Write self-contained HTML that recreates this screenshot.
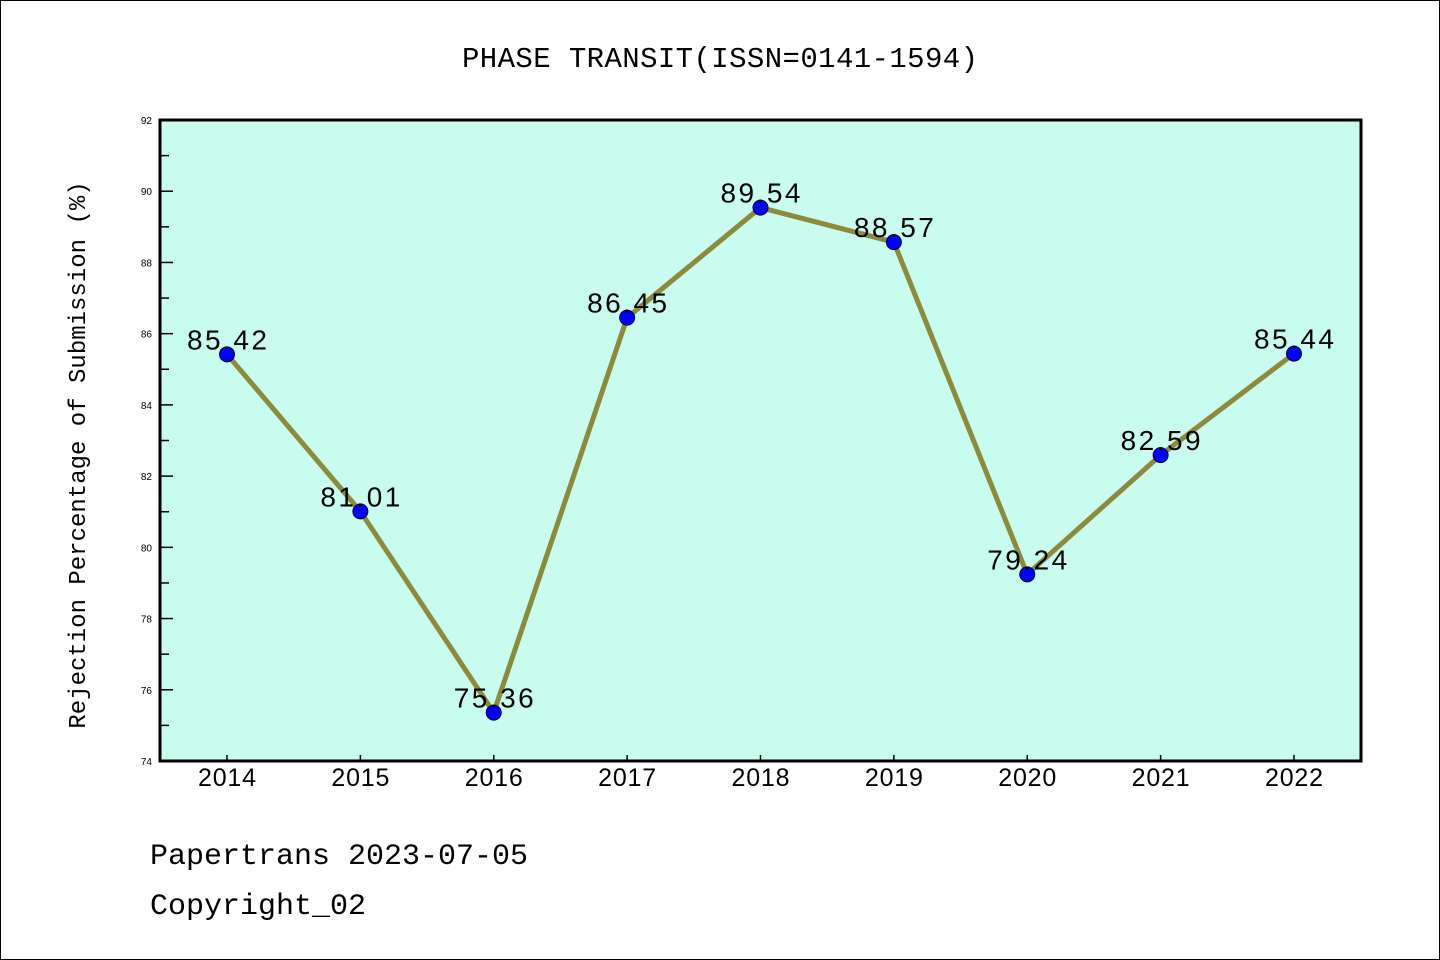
<!DOCTYPE html>
<html><head><meta charset="utf-8"><style>
html,body{margin:0;padding:0;background:#fff}
svg{display:block}
</style></head><body>
<svg width="1440" height="960" xmlns="http://www.w3.org/2000/svg" font-family="Liberation Sans, sans-serif">
<rect x="0.5" y="0.5" width="1439" height="959" fill="#fff" stroke="#000" stroke-width="1"/>
<text x="462" y="67" textLength="516" font-family="Liberation Mono, monospace" font-size="29">PHASE TRANSIT(ISSN=0141-1594)</text>
<rect x="160" y="120" width="1201" height="641" fill="#c8fcee"/>
<g id="ticks"></g>
<g id="series"></g>
<rect x="160" y="120" width="1201" height="641" fill="none" stroke="#000" stroke-width="3"/>
<text transform="translate(85,455) rotate(-90)" text-anchor="middle" font-family="Liberation Mono, monospace" font-size="24">Rejection Percentage of Submission (%)</text>
<text x="150" y="864" font-family="Liberation Mono, monospace" font-size="30">Papertrans 2023-07-05</text>
<text x="150" y="914" font-family="Liberation Mono, monospace" font-size="30">Copyright_02</text>
</svg>
<script>
const years = ['2014','2015','2016','2017','2018','2019','2020','2021','2022'];
const rates = [85.42,81.01,75.36,86.45,89.54,88.57,79.24,82.59,85.44];
const yTicks = [74,76,78,80,82,84,86,88,90,92];
const NS='http://www.w3.org/2000/svg';
const X0=227, XS=133.375, Y0=761, YS=641/18, YMIN=74;
const xs=i=>X0+i*XS, ys=v=>Y0-(v-YMIN)*YS;
function mk(tag,attrs,parent,text){const e=document.createElementNS(NS,tag);for(const k in attrs)e.setAttribute(k,attrs[k]);if(text!==undefined)e.textContent=text;parent.appendChild(e);return e;}
const tg=document.getElementById('ticks'), sg=document.getElementById('series');
for(let v=YMIN;v<=92;v++){
  const major=yTicks.includes(v);
  const t=mk('line',{x1:160,x2:160+(major?13:9),y1:ys(v),y2:ys(v),stroke:'#000','stroke-width':1.5},tg);
  
  
}
yTicks.forEach(v=>{
  const t=mk('text',{x:152,y:ys(v)+4,'text-anchor':'end','font-size':10},tg,String(v));
  
  
});
years.forEach((y,i)=>{
  const t=mk('line',{x1:xs(i),x2:xs(i),y1:761,y2:755,stroke:'#000','stroke-width':1.5},tg);
  
  
  const l=mk('text',{x:xs(i)-29,y:786,textLength:58,'font-size':25},tg,y);
  
  
});
const pl=mk('polyline',{points:rates.map((v,i)=>xs(i)+','+ys(v)).join(' '),fill:'none',stroke:'#8b8b3a','stroke-width':5,'stroke-linejoin':'round'},sg);


rates.forEach((v,i)=>{
  const c=mk('circle',{cx:xs(i),cy:ys(v),r:7.5,fill:'#0000ff',stroke:'#000033','stroke-width':1},sg);
  
  
});
rates.forEach((v,i)=>{
  const t=mk('text',{x:xs(i)-40,y:ys(v)-5,textLength:80,'font-size':28},sg,v.toFixed(2));
  
  
});
</script>
</body></html>
